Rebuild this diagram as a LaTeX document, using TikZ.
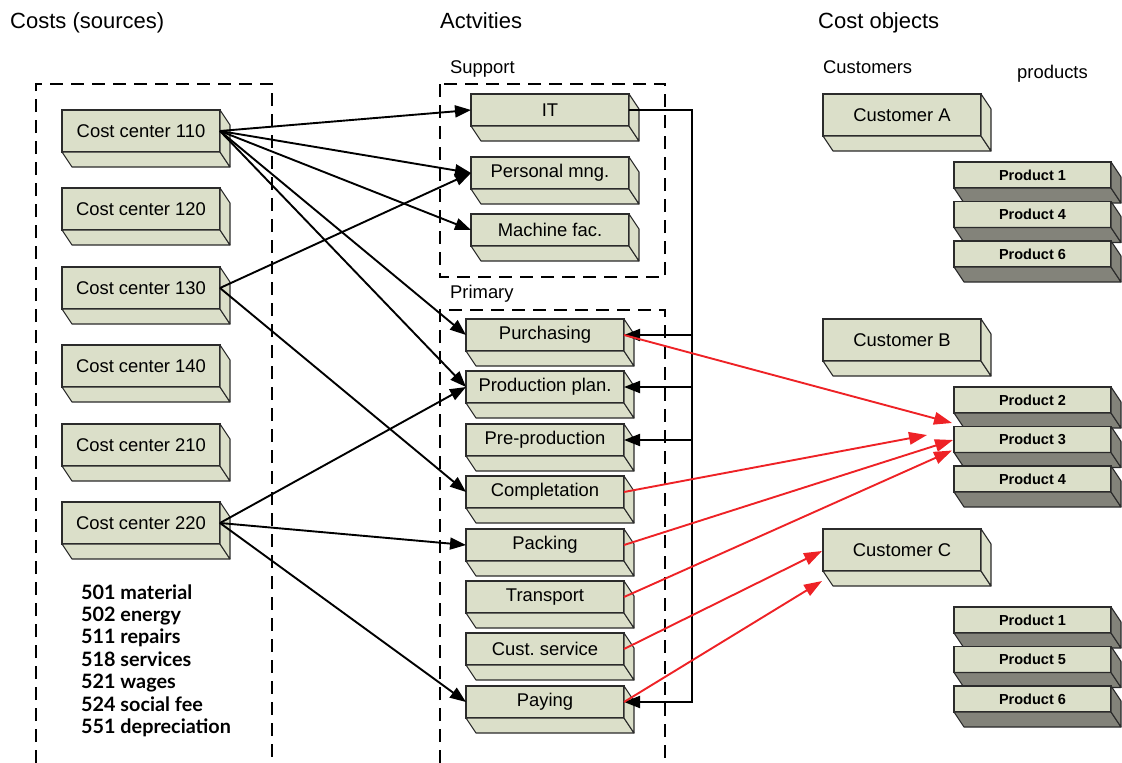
\documentclass[tikz,border=0pt]{standalone}
\usepackage{fontspec}
\setmainfont{Liberation Sans}
\newfontfamily\listfont{Lato}
\usetikzlibrary{arrows.meta,calc}
\frenchspacing
\definecolor{boxfill}{HTML}{DBDFC9}
\definecolor{darkside}{HTML}{83837A}
\definecolor{edgecol}{HTML}{2B2B2B}
\definecolor{redline}{HTML}{EE2226}
\tikzset{
 frontbox/.style={draw=edgecol, line width=1.1pt, fill=boxfill, inner sep=0pt, outer sep=0pt, anchor=north west, minimum width=158pt, font=\fontsize{18.4}{20}\selectfont},
 bigbox/.style={frontbox, minimum height=42pt},
 actbox/.style={frontbox, minimum height=32pt},
 prodbox/.style={frontbox, minimum width=157pt, minimum height=26pt, font=\bfseries\fontsize{14.5}{16}\selectfont},
 lightface/.style={draw=edgecol, line width=1.1pt, fill=boxfill, line join=round},
 darkface/.style={draw=edgecol, line width=1.1pt, fill=darkside, line join=round},
 dashframe/.style={dash pattern=on 13pt off 8pt, line width=1.8pt},
 conn/.style={line width=1.9pt, -{Triangle[length=16pt,width=12pt]}},
 redconn/.style={line width=1.9pt, draw=redline, -{Triangle[length=18pt,width=12.5pt,fill=redline]}},
 headtext/.style={anchor=base west, inner sep=0pt, font=\fontsize{22}{24}\selectfont},
 grouptext/.style={anchor=base west, inner sep=0pt, font=\fontsize{18.4}{20}\selectfont},
 listtext/.style={anchor=base west, inner sep=0pt, font=\listfont\bfseries\fontsize{19.8}{22}\selectfont},
}
\newcommand{\boxsides}[2]{%
 \draw[#2] (#1.south west) -- (#1.south east) -- ++(10,15) -- ($(#1.south west)+(10,15)$) -- cycle;
 \draw[#2] (#1.north east) -- ++(10,15) -- ($(#1.south east)+(10,15)$) -- (#1.south east) -- cycle;
}
\begin{document}
\begin{tikzpicture}[x=1pt,y=-1pt]
\useasboundingbox (0,0) rectangle (1122,763);
% headings
\node[headtext] (h1) at (10,28) {Costs (sources)};
\node[headtext] (h2) at (440,28) {Actvities};
\node[headtext] (h3) at (818,28) {Cost objects};
\node[grouptext] (gsup) at (450,73.5) {Support};
\node[grouptext] (gpri) at (450,298.5) {Primary};
\node[grouptext] (gcus) at (823,73.5) {Customers};
\node[grouptext] (gpro) at (1017,78.5) {products};
% dashed frames
\draw[dashframe] (36,763) -- (36,84) -- (272,84) -- (272,763);
\draw[dashframe] (440,84) rectangle (665,277);
\draw[dashframe] (440,763) -- (440,310) -- (665,310) -- (665,763);
% cost centers
\node[bigbox] (cc110) at (62,110) {Cost center 110}; \boxsides{cc110}{lightface}
\node[bigbox] (cc120) at (62,188) {Cost center 120}; \boxsides{cc120}{lightface}
\node[bigbox] (cc130) at (62,267) {Cost center 130}; \boxsides{cc130}{lightface}
\node[bigbox] (cc140) at (62,345) {Cost center 140}; \boxsides{cc140}{lightface}
\node[bigbox] (cc210) at (62,424) {Cost center 210}; \boxsides{cc210}{lightface}
\node[bigbox] (cc220) at (62,502) {Cost center 220}; \boxsides{cc220}{lightface}
% list
\node[listtext] (l1) at (81,599) {501 material};
\node[listtext] (l2) at (81,621.4) {502 energy};
\node[listtext] (l3) at (81,643.8) {511 repairs};
\node[listtext] (l4) at (81,666.2) {518 services};
\node[listtext] (l5) at (81,688.6) {521 wages};
\node[listtext] (l6) at (81,711) {524 social fee};
\node[listtext] (l7) at (81,733.4) {551 depreciation};
% support activities
\node[actbox] (it) at (471,94) {IT}; \boxsides{it}{lightface}
\node[actbox] (pers) at (471,157) {Personal mng.}; \boxsides{pers}{lightface}
\node[actbox] (mach) at (471,214) {Machine fac.}; \boxsides{mach}{lightface}
% primary activities
\node[actbox] (purch) at (466,319) {Purchasing}; \boxsides{purch}{lightface}
\node[actbox] (prodplan) at (466,371) {Production plan.}; \boxsides{prodplan}{lightface}
\node[actbox] (preprod) at (466,424) {Pre-production}; \boxsides{preprod}{lightface}
\node[actbox] (compl) at (466,476) {Completation}; \boxsides{compl}{lightface}
\node[actbox] (pack) at (466,529) {Packing}; \boxsides{pack}{lightface}
\node[actbox] (transp) at (466,581) {Transport}; \boxsides{transp}{lightface}
\node[actbox] (cserv) at (466,633) {Cust.\ service}; \boxsides{cserv}{lightface}
\node[actbox] (pay) at (466,686) {Paying}; \boxsides{pay}{lightface}
% customers
\node[bigbox] (custA) at (823,94) {Customer A}; \boxsides{custA}{lightface}
\node[bigbox] (custB) at (823,319) {Customer B}; \boxsides{custB}{lightface}
\node[bigbox] (custC) at (823,529) {Customer C}; \boxsides{custC}{lightface}
% products
\node[prodbox] (pa1) at (954,162) {Product 1}; \boxsides{pa1}{darkface}
\node[prodbox] (pa4) at (954,201.5) {Product 4}; \boxsides{pa4}{darkface}
\node[prodbox] (pa6) at (954,241) {Product 6}; \boxsides{pa6}{darkface}
\node[prodbox] (pb2) at (954,387) {Product 2}; \boxsides{pb2}{darkface}
\node[prodbox] (pb3) at (954,426.5) {Product 3}; \boxsides{pb3}{darkface}
\node[prodbox] (pb4) at (954,466) {Product 4}; \boxsides{pb4}{darkface}
\node[prodbox] (pc1) at (954,607) {Product 1}; \boxsides{pc1}{darkface}
\node[prodbox] (pc5) at (954,646.5) {Product 5}; \boxsides{pc5}{darkface}
\node[prodbox] (pc6) at (954,686) {Product 6}; \boxsides{pc6}{darkface}
% black connectors from cost centers
\draw[conn] (cc110.east) -- (it.west);
\draw[conn] (cc110.east) -- (pers.west);
\draw[conn] (cc110.east) -- (mach.west);
\draw[conn] (cc110.east) -- (purch.west);
\draw[conn] (cc110.east) -- (prodplan.west);
\draw[conn] (cc130.east) -- (pers.west);
\draw[conn] (cc130.east) -- (compl.west);
\draw[conn] (cc220.east) -- (prodplan.west);
\draw[conn] (cc220.east) -- (pack.west);
\draw[conn] (cc220.east) -- (pay.west);
% IT bus
\coordinate (bus) at (692,0);
\draw[conn] (it.east) -- (it.east -| bus) -- (pay.east -| bus) -- (pay.east);
\draw[conn] (purch.east -| bus) -- (purch.east);
\draw[conn] (prodplan.east -| bus) -- (prodplan.east);
\draw[conn] (preprod.east -| bus) -- (preprod.east);
% red connectors
\draw[redconn] (purch.east) -- ($(pb3.north west)+(-2,-3.5)$);
\draw[redconn] (compl.east) -- ($(pb3.west)+(-27,-4.5)$);
\draw[redconn] (pack.east) -- ($(pb3.west)+(-1,0.5)$);
\draw[redconn] (transp.east) -- ($(pb3.west)+(-2,11)$);
\draw[redconn] (cserv.east) -- ($(custC.west)+(-1,1)$);
\draw[redconn] (pay.east) -- ($(custC.south west)+(-1,10)$);
\end{tikzpicture}
\end{document}
